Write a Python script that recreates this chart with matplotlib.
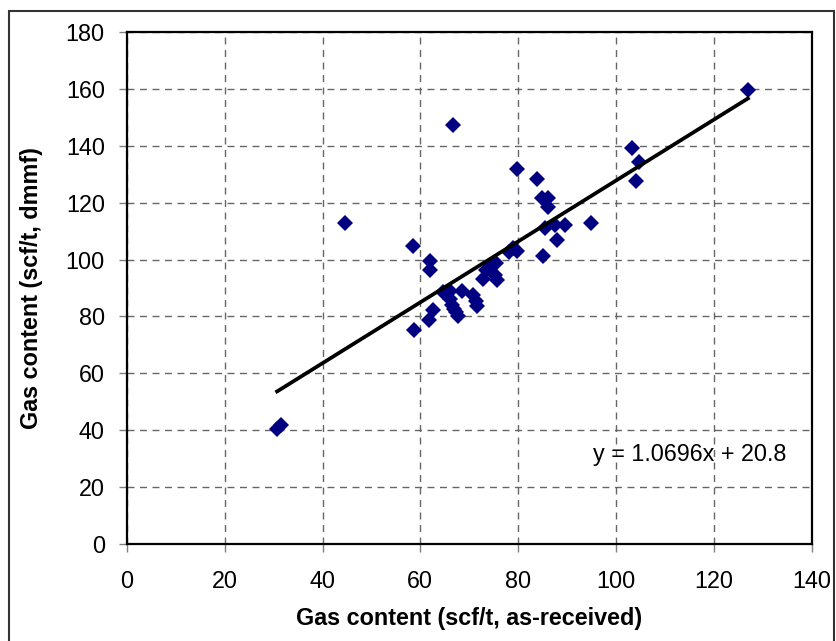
import matplotlib
matplotlib.use('Agg')
import numpy as np
from matplotlib import pyplot as plt
from matplotlib.patches import Rectangle

# gas content, as-received vs dmmf basis (scf/t)
as_received = [30.7, 31.4, 44.6, 58.4, 62.0, 62.0, 58.6, 61.7, 62.5, 64.6,
               66.0, 66.0, 66.4, 66.9, 67.3, 67.6, 66.6, 68.6, 70.8, 71.4,
               71.6, 72.8, 73.5, 74.5, 75.2, 75.4, 75.6, 78.2, 79.0, 79.7,
               79.7, 83.8, 84.8, 86.1, 86.1, 85.5, 87.5, 89.6, 87.9, 85.1,
               95.0, 103.3, 104.1, 104.8, 127.0]
dmmf = [40.5, 41.9, 113.0, 104.6, 99.4, 96.2, 75.2, 78.7, 82.4, 88.6,
        88.9, 86.3, 84.0, 82.6, 81.4, 80.3, 147.3, 88.8, 87.4, 85.4,
        83.5, 93.0, 96.2, 97.7, 94.5, 98.8, 92.8, 102.6, 104.2, 103.0,
        132.0, 128.4, 121.5, 121.5, 118.6, 111.0, 112.0, 112.3, 106.8, 101.2,
        113.0, 139.1, 127.6, 134.3, 159.6]

slope, intercept = 1.0696, 20.8
x_ticks = np.arange(0, 141, 20)
y_ticks = np.arange(0, 181, 20)

plt.rcParams['font.family'] = ['Liberation Sans', 'DejaVu Sans']
plt.rcParams['font.size'] = 16.8

fig = plt.figure(figsize=(8.36, 6.41), dpi=100)
ax = fig.add_axes([127 / 836, 97 / 641, 684.5 / 836, 512 / 641])

ax.plot(as_received, dmmf, 'D', color='#000080', ms=8.5, mew=0, zorder=3)

xl = np.array([min(as_received), max(as_received)])
ax.plot(xl, slope * xl + intercept, color='black', lw=2.7, zorder=4)

ax.set_xlim(0, 140)
ax.set_ylim(0, 180)
ax.set_xticks(x_ticks)
ax.set_yticks(y_ticks)
ax.grid(True, color='#666666', ls=(0, (5, 4)), lw=1)
ax.set_axisbelow(True)
for s in ax.spines.values():
    s.set_linewidth(1.6)
ax.tick_params(direction='out', length=6, width=1, color='#808080')
ax.tick_params(axis='x', pad=13)
ax.tick_params(axis='y', pad=10)

ax.set_xlabel('Gas content (scf/t, as-received)', fontweight='bold', labelpad=10)
ax.set_ylabel('Gas content (scf/t, dmmf)', fontweight='bold', labelpad=16)
ax.text(95.3, 31.5, f'y = {slope}x + {intercept}', ha='left', va='center')

fig.patches.append(Rectangle((9 / 836, -0.05), 825 / 836, 1.05 - 11 / 641,
                             transform=fig.transFigure, fill=False,
                             ec='#333333', lw=1.5))

fig.savefig('out.png', dpi=100)
